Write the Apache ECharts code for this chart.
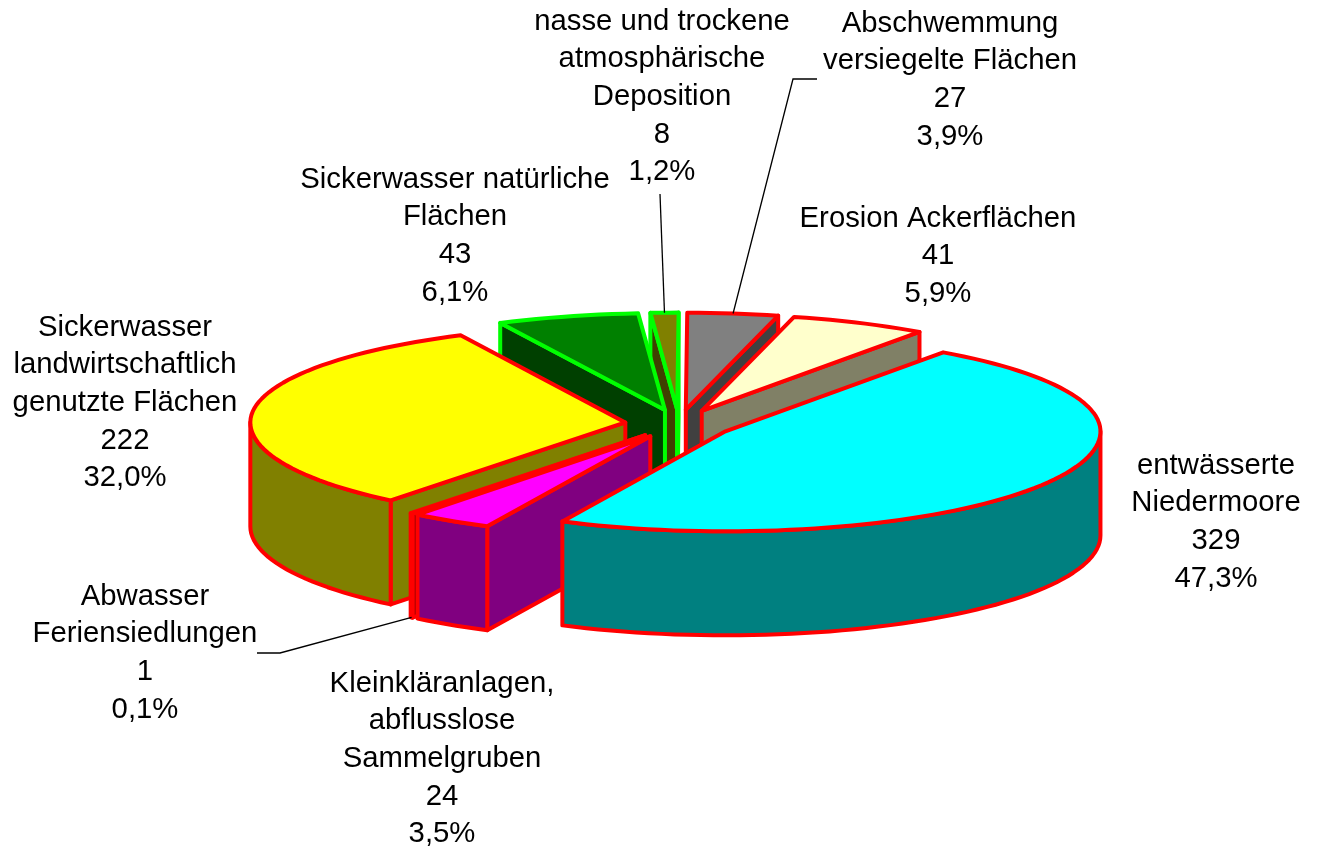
<!DOCTYPE html>
<html>
<head>
<meta charset="utf-8">
<title>Nährstoffeinträge</title>
<script src="https://cdn.jsdelivr.net/npm/echarts@6/dist/echarts.min.js"></script>
<style>
html, body { margin: 0; padding: 0; background: #fff; }
#main { width: 1323px; height: 849px; }
</style>
</head>
<body>
<div id="main"></div>
<script>
// data, clockwise starting at the big slice
var names = [
	'entwässerte\nNiedermoore',
	'Kleinkläranlagen,\nabflusslose\nSammelgruben',
	'Abwasser\nFeriensiedlungen',
	'Sickerwasser\nlandwirtschaftlich\ngenutzte Flächen',
	'Sickerwasser natürliche\nFlächen',
	'nasse und trockene\natmosphärische\nDeposition',
	'Abschwemmung\nversiegelte Flächen',
	'Erosion Ackerflächen'
];
var values = [329, 24, 1, 222, 43, 8, 27, 41];
var percents = [47.3, 3.5, 0.1, 32.0, 6.1, 1.2, 3.9, 5.9];

// styles
var topColors = ['#00ffff', '#ff00ff', '#ff0000', '#ffff00', '#008000', '#808000', '#808080', '#ffffcc'];
var sideColors = ['#008080', '#800080', '#800000', '#808000', '#004000', '#404000', '#404040', '#808066'];
var borderColors = ['#ff0000', '#ff0000', '#ff0000', '#ff0000', '#00ff00', '#00ff00', '#ff0000', '#ff0000'];

// layout of the labels: centre x, y of the first line's top
var labelPos = [
	[1216, 447], [442, 665], [145, 578], [125, 309],
	[455, 161], [662, 3], [950, 5], [938, 200]
];
// leader lines: elbow points from the slice to the label
var leaders = {
	2: [[280, 653], [257, 653]],
	5: [[660, 194]],
	6: [[793, 79], [817, 79]]
};
// back to front
var drawOrder = [6, 5, 4, 7, 3, 2, 1, 0];

var CX = 679, CY = 424, RX = 375, DEPTH = 104, EXPLODE = 54;
var RY_FRONT = 100, RY_BACK = 97; // the back half looks a bit flatter
var START_ANGLE = 305.5;
var RAD = Math.PI / 180;

// start and end angle of every slice
var angles = [];
var acc = START_ANGLE;
for (var i = 0; i < percents.length; i++) {
	angles.push([acc, acc + percents[i] * 3.6]);
	acc += percents[i] * 3.6;
}

function arcPoint(c, a, dy) {
	var s = Math.sin(a * RAD);
	return [c[0] + RX * Math.cos(a * RAD), c[1] + (s < 0 ? RY_BACK : RY_FRONT) * s + (dy || 0)];
}

function arcPoints(c, a0, a1, dy) {
	var pts = [];
	var n = Math.max(2, Math.ceil((a1 - a0) / 2));
	for (var k = 0; k <= n; k++) {
		pts.push(arcPoint(c, a0 + (a1 - a0) * k / n, dy));
	}
	return pts;
}

function face(pts, fill, stroke) {
	return {
		type: 'polygon',
		shape: { points: pts },
		style: { fill: fill, stroke: stroke, lineWidth: 4, lineJoin: 'round' }
	};
}

function renderSlice(params, api) {
	var idx = api.value(0);
	var a0 = angles[idx][0], a1 = angles[idx][1];
	var mid = (a0 + a1) / 2;
	var c = [
		CX + EXPLODE * Math.cos(mid * RAD),
		CY + EXPLODE * RY_FRONT / RX * Math.sin(mid * RAD)
	];
	var fill = topColors[idx], side = sideColors[idx], line = borderColors[idx];
	var children = [];

	// radial walls, only the ones turned to the viewer
	if (Math.cos(a0 * RAD) < 0) {
		var p0 = arcPoint(c, a0);
		children.push(face([c, p0, [p0[0], p0[1] + DEPTH], [c[0], c[1] + DEPTH]], side, line));
	}
	if (Math.cos(a1 * RAD) > 0) {
		var p1 = arcPoint(c, a1);
		children.push(face([c, p1, [p1[0], p1[1] + DEPTH], [c[0], c[1] + DEPTH]], side, line));
	}

	// outer wall, front half of the ellipse: 0-180 and 360-540
	var ranges = [[0, 180], [360, 540]];
	for (var r = 0; r < ranges.length; r++) {
		var from = Math.max(a0, ranges[r][0]);
		var to = Math.min(a1, ranges[r][1]);
		if (to > from) {
			var upper = arcPoints(c, from, to, 0);
			var lower = arcPoints(c, from, to, DEPTH).reverse();
			children.push(face(upper.concat(lower), side, line));
		}
	}

	// top
	children.push(face([c].concat(arcPoints(c, a0, a1, 0)), fill, line));

	// leader line
	if (leaders[idx]) {
		var anchor = arcPoint(c, mid, idx === 2 ? DEPTH : 0);
		children.push({
			type: 'polyline',
			shape: { points: [anchor].concat(leaders[idx]) },
			style: { fill: null, stroke: '#000', lineWidth: 1.3 },
			z2: 5
		});
	}

	// label
	children.push({
		type: 'text',
		x: labelPos[idx][0],
		y: labelPos[idx][1],
		style: {
			text: names[idx] + '\n' + values[idx] + '\n' + percents[idx].toFixed(1).replace('.', ',') + '%',
			font: '29.3px "Liberation Sans", Arial, sans-serif',
			lineHeight: 37.6,
			fill: '#000',
			align: 'center',
			verticalAlign: 'top'
		},
		z2: 6
	});

	return { type: 'group', children: children };
}

var myChart = echarts.init(document.getElementById('main'));
var option = {
	backgroundColor: '#fff',
	animation: false,
	tooltip: { show: false },
	series: [{
		type: 'custom',
		coordinateSystem: 'none',
		renderItem: renderSlice,
		data: drawOrder.map(function (d) { return [d]; })
	}]
};
myChart.setOption(option);
</script>
</body>
</html>
